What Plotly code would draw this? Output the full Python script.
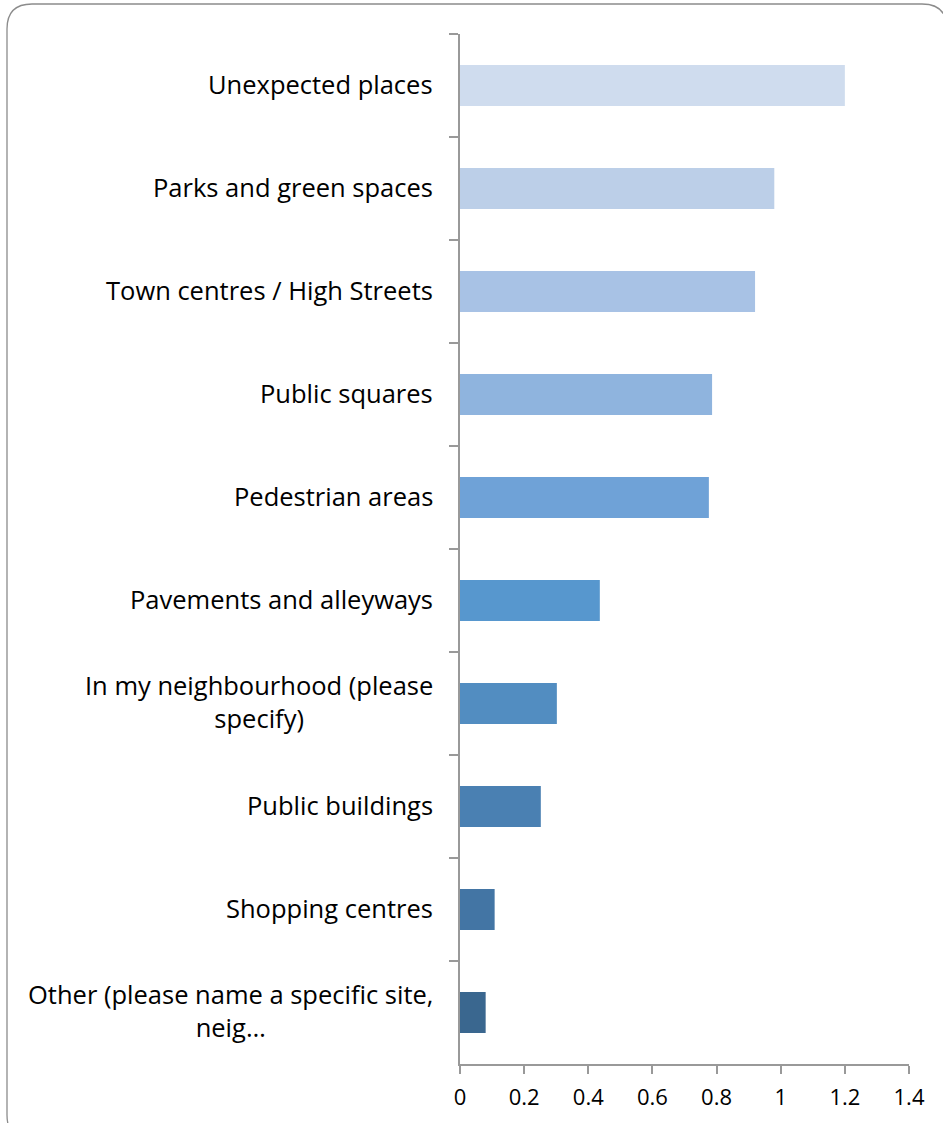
import plotly.graph_objects as go

categories = [
    "Unexpected places",
    "Parks and green spaces",
    "Town centres / High Streets",
    "Public squares",
    "Pedestrian areas",
    "Pavements and alleyways",
    "In my neighbourhood (please<br>specify)",
    "Public buildings",
    "Shopping centres",
    "Other (please name a specific site,<br>neig…",
]
values = [1.2, 0.98, 0.92, 0.786, 0.776, 0.436, 0.302, 0.252, 0.108, 0.08]
colors = ["#CFDCEE", "#BCCFE8", "#A8C2E5", "#8FB4DE", "#6FA2D7",
          "#5797CE", "#528DC1", "#4A80B2", "#4375A4", "#3A678F"]
x_ticks = [0, 0.2, 0.4, 0.6, 0.8, 1, 1.2, 1.4]
x_tick_labels = ["0", "0.2", "0.4", "0.6", "0.8", "1", "1.2", "1.4"]

W, H = 943, 1123
L, R, T, B = 460, 34, 34, 59
PW, PH = W - L - R, H - T - B
FONT = "Open Sans"


def px(x):
    return (x - L) / PW


def py(y):
    return (H - B - y) / PH


fig = go.Figure(go.Bar(
    x=values, y=categories, orientation="h",
    marker=dict(color=colors, line=dict(width=0)),
    hoverinfo="x+y",
))

fig.update_layout(
    width=W, height=H,
    margin=dict(l=L, r=R, t=T, b=B),
    paper_bgcolor="white", plot_bgcolor="white",
    bargap=0.6, showlegend=False,
    font=dict(family=FONT, size=22, color="#000000"),
)
fig.update_xaxes(
    range=[0, 1.4], tickvals=x_ticks, ticktext=x_tick_labels,
    showgrid=False, zeroline=False,
    showline=True, linecolor="#999999", linewidth=1.5,
    ticks="outside", ticklen=8, tickcolor="#999999", tickwidth=1.5,
    ticklabelstandoff=5,
    tickfont=dict(family=FONT, size=22, color="#000000"),
)
fig.update_yaxes(
    categoryorder="array", categoryarray=categories, autorange="reversed",
    showticklabels=False, showgrid=False,
    showline=True, linecolor="#999999", linewidth=1.8,
    ticks="outside", tickson="boundaries", ticklen=9,
    tickcolor="#999999", tickwidth=1.5,
)

for c in categories:
    fig.add_annotation(
        x=0, xref="paper", y=c, yref="y", xanchor="right", xshift=-25,
        yshift=2, text=c, showarrow=False, align="center",
        font=dict(family=FONT, size=25.5, color="#000000"),
    )

# rounded border around the chart area
x0, x1, y0, y1, r = 7, 947, 4, 1140, 25
path = (
    f"M {px(x0 + r)} {py(y0)} L {px(x1 - r)} {py(y0)} "
    f"Q {px(x1)} {py(y0)} {px(x1)} {py(y0 + r)} "
    f"L {px(x1)} {py(y1 - r)} Q {px(x1)} {py(y1)} {px(x1 - r)} {py(y1)} "
    f"L {px(x0 + r)} {py(y1)} Q {px(x0)} {py(y1)} {px(x0)} {py(y1 - r)} "
    f"L {px(x0)} {py(y0 + r)} Q {px(x0)} {py(y0)} {px(x0 + r)} {py(y0)} Z"
)
fig.add_shape(type="path", path=path, xref="paper", yref="paper",
              line=dict(color="#8C8C8C", width=1.3), layer="below")

fig.write_html("out.html", config={"displayModeBar": False},
               post_script="document.body.style.margin='0';")
